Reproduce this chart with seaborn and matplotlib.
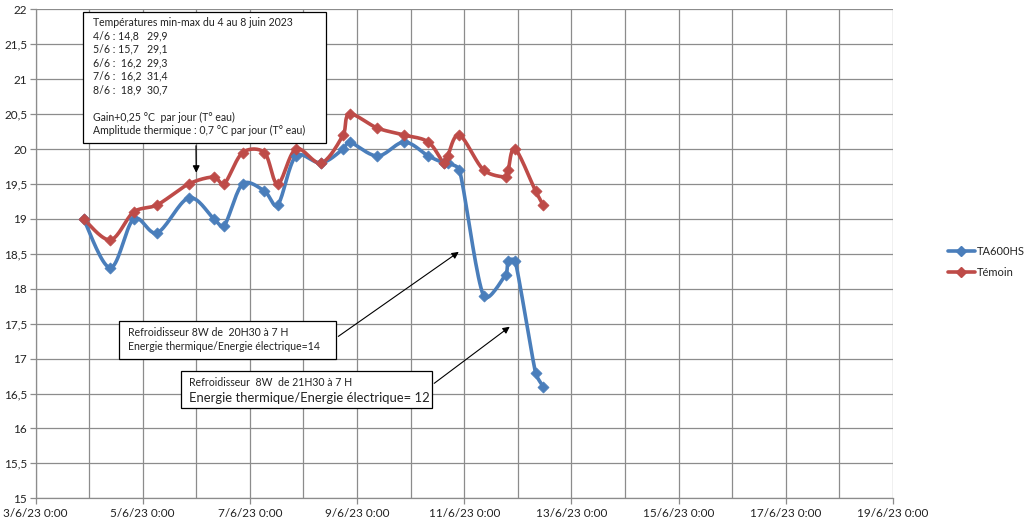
import numpy as np
import pandas as pd
import matplotlib
matplotlib.use("Agg")
import matplotlib.pyplot as plt
import matplotlib.dates as mdates
import matplotlib.ticker as mticker
from matplotlib.lines import Line2D
from matplotlib.patches import Rectangle
import seaborn as sns

# ---------------- data ----------------
start_date = "2023-06-03"
# offsets in days from 3/6/23 0:00
time_days = [0.896, 1.396, 1.833, 2.27, 2.86, 3.33, 3.52, 3.865, 4.27, 4.52, 4.86,
             5.33, 5.74, 5.86, 6.38, 6.88, 7.33, 7.62, 7.69, 7.91, 8.36, 8.77,
             8.82, 8.95, 9.33, 9.47]
ta600hs = [19.0, 18.3, 19.0, 18.8, 19.3, 19.0, 18.9, 19.5, 19.4, 19.2, 19.9,
           19.8, 20.0, 20.1, 19.9, 20.1, 19.9, 19.8, 19.8, 19.7, 17.9, 18.2,
           18.4, 18.4, 16.8, 16.6]
temoin = [19.0, 18.7, 19.1, 19.2, 19.5, 19.6, 19.5, 19.95, 19.95, 19.5, 20.0,
          19.8, 20.2, 20.5, 20.3, 20.2, 20.1, 19.8, 19.9, 20.2, 19.7, 19.6,
          19.7, 20.0, 19.4, 19.2]
series_names = ["TA600HS", "Témoin"]
series_colors = ["#4A7EBB", "#BE4B48"]
x_tick_days = [0, 2, 4, 6, 8, 10, 12, 14, 16]

box1_lines = ["Températures min-max du 4 au 8 juin 2023",
              "4/6 : 14,8   29,9",
              "5/6 : 15,7   29,1",
              "6/6 :  16,2  29,3",
              "7/6 :  16,2  31,4",
              "8/6 :  18,9  30,7",
              "",
              "Gain+0,25 °C  par jour (T° eau)",
              "Amplitude thermique : 0,7 °C par jour (T° eau)"]
box2_lines = ["Refroidisseur 8W de  20H30 à 7 H",
              "Energie thermique/Energie électrique=14"]
box3_line1 = "Refroidisseur  8W  de 21H30 à 7 H"
box3_line2 = "Energie thermique/Energie électrique= 12"

# ---------------- helpers ----------------
base = mdates.date2num(pd.Timestamp(start_date))
x_num = base + np.array(time_days)

def smooth(xs, ys, sx=53.35, sy=69.86, n=20):
    """Excel-like smoothed line (cubic Bezier with limited handles)."""
    P = np.column_stack([np.asarray(xs) * sx, np.asarray(ys) * sy])
    m = len(P)
    tang = []
    for i in range(m):
        a = P[i - 1] if i > 0 else P[i]
        b = P[i + 1] if i < m - 1 else P[i]
        d = b - a
        nd = np.linalg.norm(d)
        tang.append(d / nd if nd > 0 else np.zeros(2))
    out = [P[0]]
    for i in range(m - 1):
        p1, p2 = P[i], P[i + 1]
        p0 = P[i - 1] if i > 0 else P[i]
        p3 = P[i + 2] if i + 2 < m else P[i + 1]
        seg = np.linalg.norm(p2 - p1)
        h1 = min(np.linalg.norm(p2 - p0) / 6.0, seg / 3.0)
        h2 = min(np.linalg.norm(p3 - p1) / 6.0, seg / 3.0)
        c1 = p1 + tang[i] * h1
        c2 = p2 - tang[i + 1] * h2
        t = np.linspace(0, 1, n)[1:, None]
        pts = ((1 - t) ** 3) * p1 + 3 * ((1 - t) ** 2) * t * c1 + 3 * (1 - t) * t ** 2 * c2 + t ** 3 * p2
        out.extend(pts)
    out = np.array(out)
    return out[:, 0] / sx, out[:, 1] / sy

sns.set_theme(style="white")
plt.rcParams['font.family'] = ['Lato', 'DejaVu Sans']

fig = plt.figure(figsize=(10.24, 5.24), dpi=100)
ax = fig.add_axes([35.5 / 1024, (524 - 498.3) / 524, (893 - 35.5) / 1024, (498.3 - 9.3) / 524])

for vals, name, col in zip([ta600hs, temoin], series_names, series_colors):
    sx_, sy_ = smooth(x_num, vals)
    sns.lineplot(x=sx_, y=sy_, sort=False, estimator=None, color=col, lw=2.6, ax=ax, zorder=3)
    sns.scatterplot(x=x_num, y=vals, marker="D", s=32, color=col, edgecolor=col, linewidth=0.5, ax=ax, zorder=4)

ax.set_xlim(base, base + 16)
ax.set_ylim(15, 22)
ax.set_xticks(base + np.array(x_tick_days, dtype=float))
ax.set_xticks(base + np.arange(0, 17, 1.0), minor=True)

def xfmt(v, pos):
    d = mdates.num2date(v)
    return f"{d.day}/{d.month}/{d.strftime('%y')} {d.hour}:{d.minute:02d}"
ax.xaxis.set_major_formatter(mticker.FuncFormatter(xfmt))
ax.yaxis.set_major_locator(mticker.MultipleLocator(0.5))
ax.yaxis.set_major_formatter(mticker.FuncFormatter(
    lambda v, p: (f"{v:.0f}" if abs(v - round(v)) < 1e-9 else f"{v:.1f}".replace(".", ","))))

grid_col = "#8C8C8C"
ax.grid(True, which="major", axis="both", color=grid_col, lw=0.9)
ax.grid(True, which="minor", axis="x", color=grid_col, lw=0.9)
for s in ["top", "right"]:
    ax.spines[s].set_visible(False)
for s in ["left", "bottom"]:
    ax.spines[s].set_color(grid_col)
    ax.spines[s].set_linewidth(0.9)
ax.tick_params(axis="both", which="major", direction="out", length=4, width=0.9,
               color=grid_col, labelsize=8.5, labelcolor="#222222", pad=2)
ax.tick_params(axis="x", which="minor", length=0)
ax.tick_params(axis="x", which="major", pad=3)
ax.tick_params(axis="y", left=True)
ax.tick_params(axis="x", bottom=True)
ax.set_xlabel("")
ax.set_ylabel("")

# ---------------- annotations ----------------
def px(x, y):
    """pixel (from top-left) to figure fraction"""
    return (x / 1024, 1 - y / 524)

def box(x0, y0, x1, y1):
    r = Rectangle(px(x0, y1), (x1 - x0) / 1024, (y1 - y0) / 524, transform=fig.transFigure,
                  facecolor="white", edgecolor="black", lw=0.9, zorder=10)
    fig.patches.append(r)

txtcol = "#222222"
box(83, 12, 326, 143)
for i, line in enumerate(box1_lines):
    fig.text(*px(93, 22 + i * 13.6), line, fontsize=7.6, color=txtcol, va="center", ha="left", zorder=11)
ax.annotate("", xy=(base + 3.0, 19.62), xycoords="data", xytext=px(196, 143), textcoords="figure fraction",
            arrowprops=dict(arrowstyle="-|>", color="black", lw=0.9, mutation_scale=10), zorder=12)

box(119, 321, 336, 359)
for i, line in enumerate(box2_lines):
    fig.text(*px(128, 332 + i * 15), line, fontsize=7.6, color=txtcol, va="center", ha="left", zorder=11)
ax.annotate("", xy=(base + 7.94, 18.55), xycoords="data", xytext=px(336, 338), textcoords="figure fraction",
            arrowprops=dict(arrowstyle="-|>", color="black", lw=0.8, mutation_scale=10), zorder=12)

box(181, 371, 432, 408)
fig.text(*px(189, 382), box3_line1, fontsize=7.6, color=txtcol, va="center", ha="left", zorder=11)
fig.text(*px(189, 398), box3_line2, fontsize=9.4, color=txtcol, va="center", ha="left", zorder=11)
ax.annotate("", xy=(base + 8.89, 17.48), xycoords="data", xytext=px(432, 385), textcoords="figure fraction",
            arrowprops=dict(arrowstyle="-|>", color="black", lw=0.8, mutation_scale=10), zorder=12)

# ---------------- legend ----------------
handles = [Line2D([0], [0], color=c, lw=2.6, marker="D", markersize=5, markerfacecolor=c, markeredgecolor=c)
           for c in series_colors]
fig.legend(handles, series_names, loc="center left", bbox_to_anchor=(938 / 1024, 1 - 262 / 524),
           frameon=False, fontsize=8, handlelength=2.4, handletextpad=0.2, labelspacing=0.9,
           labelcolor=txtcol)

fig.savefig("out.png", dpi=100)
